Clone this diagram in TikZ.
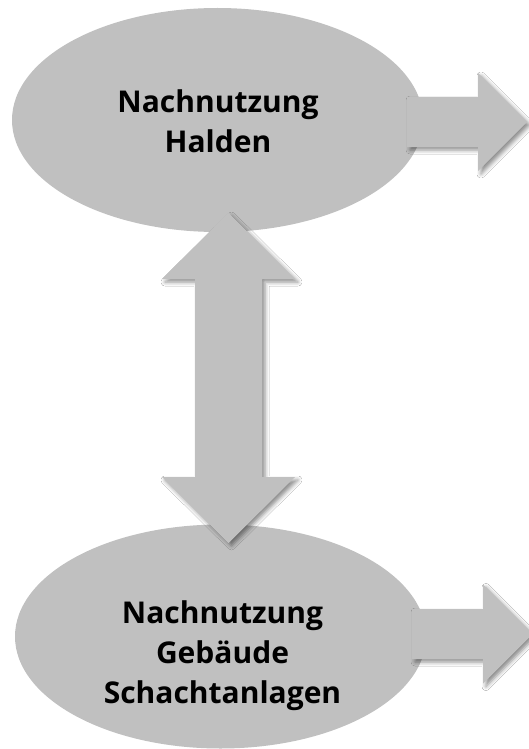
\documentclass[tikz,border=0pt]{standalone}
\usepackage{fontspec}
\setmainfont{Open Sans}
\usetikzlibrary{shapes.geometric,shadows.blur}
\definecolor{shapegray}{RGB}{192,192,192}
\tikzset{
  blob/.style={ellipse, fill=shapegray, draw=none, minimum width=411pt, minimum height=224pt, inner sep=0pt, outer sep=0pt},
  lbl/.style={anchor=base, inner sep=0pt, font=\fontsize{30}{40}\selectfont\bfseries},
  blockarrow/.style={fill=shapegray, draw=none, blur shadow={shadow xshift=3pt, shadow yshift=-3pt, shadow blur radius=4pt, shadow opacity=45}},
}
\begin{document}
\begin{tikzpicture}[x=1pt,y=-1pt]
  \clip (0,0) rectangle (529,749);
  \fill[white] (0,0) rectangle (529,749);
  % ellipses
  \node[blob] (halden) at (217.5,120) {};
  \node[blob] (gebaeude) at (220.5,636.5) {};
  % labels
  \node[lbl] (haldenT) at (218,113) {\begin{tabular}[t]{@{}c@{}}Nachnutzung\\Halden\end{tabular}};
  \node[lbl] (gebaeudeT) at (222.5,623) {\begin{tabular}[t]{@{}c@{}}Nachnutzung\\Geb\"aude\\Schachtanlagen\end{tabular}};
  % right arrows
  \path[blockarrow] (407,97) -- (478,97) -- (478,73) -- (527,122) -- (478,171) -- (478,147) -- (407,147) -- cycle;
  \path[blockarrow] (412,609) -- (483,609) -- (483,584.5) -- (532.5,634) -- (483,683.5) -- (483,659) -- (412,659) -- cycle;
  % double arrow
  \path[blockarrow] (228.5,213) -- (295,279) -- (262,279) -- (262,477) -- (295,477) -- (228.5,543) -- (162,477) -- (195,477) -- (195,279) -- (162,279) -- cycle;
\end{tikzpicture}
\end{document}
